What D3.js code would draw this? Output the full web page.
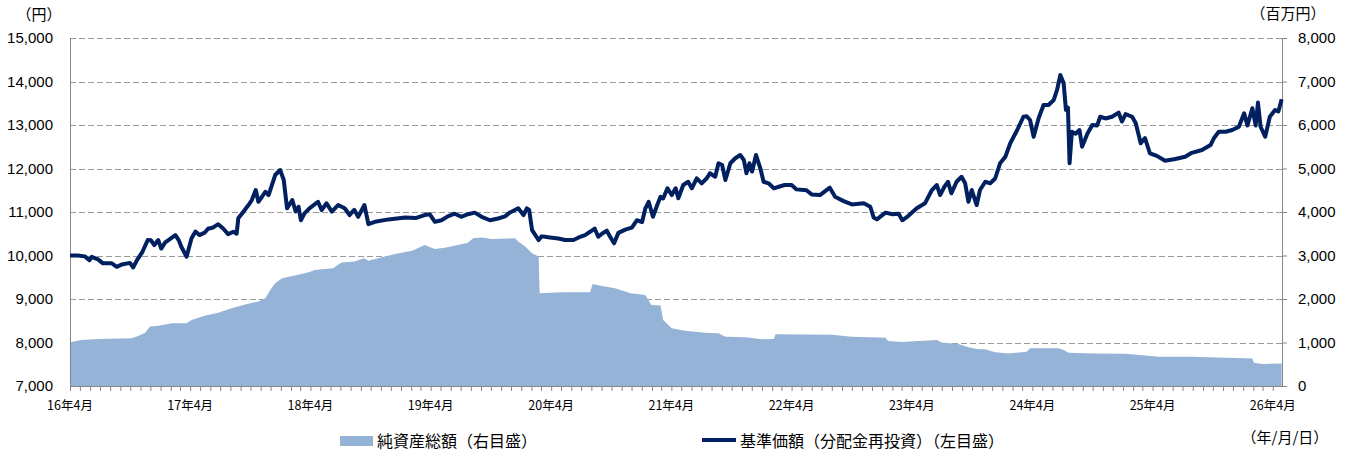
<!DOCTYPE html>
<html>
<head>
<meta charset="utf-8">
<script src="https://cdn.jsdelivr.net/npm/d3@7"></script>
<style>
  body { margin: 0; background: #fff; }
  svg { display: block; }
  text { fill: #000; }
  .num { font-family: 'Liberation Sans', Arial, sans-serif; font-size: 15px; }
  .jp { font-family: 'Noto Sans CJK JP', sans-serif; }
</style>
</head>
<body>
<svg id="chart" width="1355" height="455"></svg>
<script>
const WIDTH = 1355
const HEIGHT = 455
const MARGIN = { left: 70, right: 73, top: 38, bottom: 69 }

const LINE_COLOR = '#002060'
const AREA_COLOR = '#95b3d7'
const AXIS_COLOR = '#868686'
const GRID_COLOR = '#9a9a9a'

// 基準価額（分配金再投資） 円
const navPoints = [
  ['2016-04-01', 10000], ['2016-04-25', 10000], ['2016-05-16', 9980], ['2016-05-30', 9890],
  ['2016-06-06', 9970], ['2016-06-25', 9910], ['2016-07-10', 9820], ['2016-08-06', 9820],
  ['2016-08-21', 9740], ['2016-09-06', 9795], ['2016-09-30', 9830], ['2016-10-10', 9725],
  ['2016-10-21', 9890], ['2016-11-07', 10085], ['2016-11-23', 10355], ['2016-12-03', 10350],
  ['2016-12-13', 10240], ['2016-12-25', 10355], ['2017-01-03', 10160], ['2017-01-15', 10300],
  ['2017-01-25', 10355], ['2017-02-15', 10470], ['2017-02-25', 10355], ['2017-03-05', 10200],
  ['2017-03-21', 9970], ['2017-04-05', 10395], ['2017-04-17', 10550], ['2017-04-29', 10470],
  ['2017-05-15', 10525], ['2017-05-25', 10615], ['2017-06-10', 10645], ['2017-06-25', 10720],
  ['2017-07-10', 10620], ['2017-07-25', 10490], ['2017-08-10', 10545], ['2017-08-20', 10500],
  ['2017-08-25', 10855], ['2017-09-10', 11010], ['2017-09-25', 11160], ['2017-10-05', 11275],
  ['2017-10-17', 11505], ['2017-10-25', 11235], ['2017-11-05', 11350], ['2017-11-15', 11465],
  ['2017-11-25', 11390], ['2017-12-05', 11620], ['2017-12-15', 11850], ['2017-12-30', 11965],
  ['2018-01-10', 11735], ['2018-01-20', 11085], ['2018-02-05', 11275], ['2018-02-15', 11010],
  ['2018-02-24', 11120], ['2018-03-03', 10810], ['2018-03-14', 10970], ['2018-03-29', 11085],
  ['2018-04-24', 11235], ['2018-05-05', 11045], ['2018-05-20', 11200], ['2018-06-05', 11010],
  ['2018-06-24', 11160], ['2018-07-14', 11085], ['2018-07-29', 10930], ['2018-08-12', 11050],
  ['2018-08-24', 10890], ['2018-09-12', 11160], ['2018-09-24', 10720], ['2018-10-14', 10775],
  ['2018-11-24', 10830], ['2019-01-14', 10875], ['2019-02-14', 10860], ['2019-03-14', 10930],
  ['2019-03-29', 10950], ['2019-04-14', 10775], ['2019-05-04', 10810], ['2019-05-23', 10900],
  ['2019-06-13', 10960], ['2019-07-03', 10890], ['2019-07-23', 10950], ['2019-08-13', 10985],
  ['2019-09-03', 10890], ['2019-09-28', 10810], ['2019-10-23', 10850], ['2019-11-13', 10900],
  ['2019-11-28', 10990], ['2019-12-23', 11085], ['2020-01-08', 10930], ['2020-01-18', 11085],
  ['2020-01-25', 11050], ['2020-02-03', 10585], ['2020-02-13', 10470], ['2020-02-23', 10355],
  ['2020-03-03', 10440], ['2020-03-13', 10430], ['2020-03-28', 10415], ['2020-04-23', 10390],
  ['2020-05-13', 10355], ['2020-06-08', 10355], ['2020-06-28', 10430], ['2020-07-13', 10470],
  ['2020-07-28', 10545], ['2020-08-11', 10620], ['2020-08-22', 10430], ['2020-09-03', 10505],
  ['2020-09-17', 10570], ['2020-09-27', 10430], ['2020-10-09', 10280], ['2020-10-22', 10520],
  ['2020-11-12', 10595], ['2020-12-02', 10640], ['2020-12-17', 10810], ['2021-01-02', 10770],
  ['2021-01-12', 11085], ['2021-01-22', 11235], ['2021-02-04', 10890], ['2021-02-17', 11160],
  ['2021-02-27', 11350], ['2021-03-07', 11310], ['2021-03-20', 11545], ['2021-04-02', 11390],
  ['2021-04-14', 11545], ['2021-04-22', 11315], ['2021-05-07', 11620], ['2021-05-22', 11695],
  ['2021-06-02', 11545], ['2021-06-17', 11775], ['2021-07-02', 11660], ['2021-07-17', 11775],
  ['2021-07-27', 11890], ['2021-08-12', 11810], ['2021-08-22', 12120], ['2021-09-02', 12080],
  ['2021-09-12', 11735], ['2021-09-27', 12120], ['2021-10-12', 12235], ['2021-10-27', 12310],
  ['2021-11-07', 12195], ['2021-11-15', 11890], ['2021-11-24', 12120], ['2021-12-02', 11930],
  ['2021-12-14', 12310], ['2021-12-27', 12005], ['2022-01-06', 11695], ['2022-01-21', 11660],
  ['2022-02-06', 11545], ['2022-02-21', 11580], ['2022-03-11', 11620], ['2022-04-01', 11620],
  ['2022-04-16', 11520], ['2022-05-16', 11500], ['2022-06-01', 11405], ['2022-06-26', 11390],
  ['2022-07-26', 11560], ['2022-08-11', 11350], ['2022-09-06', 11250], ['2022-10-01', 11175],
  ['2022-11-06', 11200], ['2022-11-26', 11120], ['2022-12-06', 10875], ['2022-12-16', 10830],
  ['2023-01-11', 10985], ['2023-02-01', 10950], ['2023-02-20', 10960], ['2023-03-03', 10810],
  ['2023-03-20', 10900], ['2023-04-16', 11085], ['2023-05-11', 11200], ['2023-06-01', 11505],
  ['2023-06-16', 11620], ['2023-06-26', 11390], ['2023-07-09', 11580], ['2023-07-20', 11695],
  ['2023-07-30', 11430], ['2023-08-15', 11695], ['2023-08-30', 11810], ['2023-09-10', 11660],
  ['2023-09-20', 11235], ['2023-09-30', 11505], ['2023-10-15', 11160], ['2023-10-25', 11505],
  ['2023-11-10', 11695], ['2023-11-25', 11660], ['2023-12-10', 11770], ['2023-12-25', 12120],
  ['2024-01-10', 12270], ['2024-01-25', 12580], ['2024-02-15', 12885], ['2024-03-05', 13190],
  ['2024-03-15', 13200], ['2024-03-25', 13115], ['2024-04-05', 12730], ['2024-04-20', 13155],
  ['2024-05-05', 13460], ['2024-05-20', 13460], ['2024-06-05', 13575], ['2024-06-15', 13805],
  ['2024-06-25', 14150], ['2024-07-05', 13960], ['2024-07-12', 13345], ['2024-07-18', 13400],
  ['2024-07-23', 12120], ['2024-07-30', 12845], ['2024-08-10', 12800], ['2024-08-22', 12885],
  ['2024-08-30', 12500], ['2024-09-15', 12800], ['2024-09-30', 13000], ['2024-10-15', 12990],
  ['2024-10-24', 13190], ['2024-11-09', 13150], ['2024-11-29', 13190], ['2024-12-19', 13285],
  ['2024-12-29', 13080], ['2025-01-09', 13250], ['2025-01-29', 13190], ['2025-02-09', 13040],
  ['2025-02-24', 12580], ['2025-03-09', 12700], ['2025-03-24', 12350], ['2025-04-14', 12290],
  ['2025-05-09', 12180], ['2025-06-09', 12220], ['2025-07-09', 12270], ['2025-07-29', 12360],
  ['2025-08-29', 12425], ['2025-09-24', 12540], ['2025-10-04', 12695], ['2025-10-19', 12845],
  ['2025-11-09', 12845], ['2025-11-29', 12885], ['2025-12-19', 12960], ['2026-01-04', 13270],
  ['2026-01-14', 12990], ['2026-01-29', 13385], ['2026-02-08', 12990], ['2026-02-15', 13515],
  ['2026-02-23', 12960], ['2026-03-09', 12730], ['2026-03-23', 13190], ['2026-04-08', 13345],
  ['2026-04-18', 13310], ['2026-04-28', 13590]
]

// 純資産総額 百万円
const assetPoints = [
  ['2016-04-01', 1005], ['2016-05-06', 1057], ['2016-06-25', 1080], ['2016-10-05', 1095],
  ['2016-10-25', 1150], ['2016-11-15', 1225], ['2016-11-30', 1365], ['2016-12-25', 1385],
  ['2017-02-05', 1440], ['2017-03-21', 1440], ['2017-04-05', 1515], ['2017-05-15', 1615],
  ['2017-06-25', 1685], ['2017-08-05', 1785], ['2017-09-15', 1875], ['2017-10-25', 1940],
  ['2017-11-15', 2015], ['2017-11-30', 2205], ['2017-12-15', 2360], ['2018-01-05', 2475],
  ['2018-02-05', 2530], ['2018-03-05', 2575], ['2018-03-29', 2620], ['2018-04-14', 2665],
  ['2018-06-09', 2705], ['2018-07-04', 2840], ['2018-08-13', 2860], ['2018-09-10', 2935],
  ['2018-09-24', 2880], ['2018-11-04', 2960], ['2018-12-14', 3035], ['2019-02-04', 3110],
  ['2019-03-04', 3205], ['2019-03-14', 3240], ['2019-04-14', 3150], ['2019-05-14', 3180],
  ['2019-06-23', 3240], ['2019-07-23', 3295], ['2019-08-08', 3395], ['2019-09-03', 3415],
  ['2019-10-03', 3380], ['2019-12-13', 3395], ['2019-12-23', 3320], ['2020-01-13', 3205],
  ['2020-02-03', 3050], ['2020-02-23', 2975], ['2020-02-26', 2130], ['2020-05-03', 2155],
  ['2020-07-28', 2155], ['2020-08-05', 2345], ['2020-09-02', 2300], ['2020-10-12', 2245],
  ['2020-11-28', 2130], ['2021-01-12', 2090], ['2021-01-30', 1860], ['2021-02-27', 1850],
  ['2021-03-07', 1515], ['2021-04-02', 1325], ['2021-05-12', 1270], ['2021-07-12', 1225],
  ['2021-08-22', 1215], ['2021-09-12', 1135], ['2021-11-12', 1120], ['2021-12-31', 1075],
  ['2022-02-06', 1080], ['2022-02-11', 1190], ['2022-08-01', 1180], ['2022-10-01', 1135],
  ['2023-01-11', 1110], ['2023-01-19', 1035], ['2023-03-01', 1010], ['2023-06-16', 1057],
  ['2023-07-01', 1000], ['2023-08-20', 965], ['2023-09-20', 890], ['2023-10-20', 845],
  ['2023-11-10', 845], ['2023-12-10', 775], ['2024-01-19', 750], ['2024-03-15', 790],
  ['2024-03-25', 865], ['2024-06-19', 865], ['2024-07-05', 830], ['2024-07-20', 765],
  ['2024-09-30', 750], ['2025-01-09', 740], ['2025-02-28', 705], ['2025-04-20', 675],
  ['2025-07-29', 675], ['2025-11-09', 650], ['2026-01-29', 635], ['2026-02-03', 535],
  ['2026-02-28', 505], ['2026-04-28', 520]
]

const leftTicks = [7000, 8000, 9000, 10000, 11000, 12000, 13000, 14000, 15000]
const rightTicks = [0, 1000, 2000, 3000, 4000, 5000, 6000, 7000, 8000]
const xTickLabels = ['16年4月', '17年4月', '18年4月', '19年4月', '20年4月', '21年4月',
  '22年4月', '23年4月', '24年4月', '25年4月', '26年4月']
const legendLabels = ['純資産総額（右目盛）', '基準価額（分配金再投資）（左目盛）']

const parseDate = d3.timeParse('%Y-%m-%d')
const nav = navPoints.map(([d, v]) => ({ date: parseDate(d), value: v }))
const assets = assetPoints.map(([d, v]) => ({ date: parseDate(d), value: v }))

const x0 = MARGIN.left
const x1 = WIDTH - MARGIN.right
const y0 = HEIGHT - MARGIN.bottom
const y1 = MARGIN.top

const x = d3.scaleTime()
  .domain([parseDate('2016-04-01'), parseDate('2026-04-29')])
  .range([x0, x1])
const yLeft = d3.scaleLinear().domain([7000, 15000]).range([y0, y1])
const yRight = d3.scaleLinear().domain([0, 8000]).range([y0, y1])

const svg = d3.select('#chart')
const fmt = d3.format(',')

// grid
svg.append('g')
  .selectAll('line')
  .data(leftTicks.slice(1))
  .enter()
  .append('line')
  .attr('x1', x0)
  .attr('x2', x1)
  .attr('y1', (d) => Math.round(yLeft(d)) + 0.5)
  .attr('y2', (d) => Math.round(yLeft(d)) + 0.5)
  .attr('stroke', GRID_COLOR)
  .attr('stroke-width', 1)
  .attr('stroke-dasharray', '6,3')

// net assets area
const area = d3.area()
  .x((d) => x(d.date))
  .y0(yRight(0))
  .y1((d) => yRight(d.value))
svg.append('path')
  .datum(assets)
  .attr('d', area)
  .attr('fill', AREA_COLOR)

// axes
const xAxis = d3.axisBottom(x)
  .ticks(d3.timeMonth.every(1))
  .tickSize(5)
  .tickFormat('')
const xg = svg.append('g')
  .attr('transform', `translate(0,${y0})`)
  .call(xAxis)
xg.select('.domain').remove()
xg.selectAll('line').attr('stroke', AXIS_COLOR)

const aprilTicks = d3.timeMonth.range(parseDate('2016-04-01'), parseDate('2026-04-02'), 12)
svg.append('g')
  .selectAll('text')
  .data(aprilTicks)
  .enter()
  .append('text')
  .attr('class', 'jp')
  .attr('x', (d) => x(d))
  .attr('y', 410)
  .attr('text-anchor', 'middle')
  .style('font-size', '12.5px')
  .text((d, i) => xTickLabels[i])

const leftAxis = d3.axisLeft(yLeft).tickValues(leftTicks).tickSize(0).tickPadding(17).tickFormat(fmt)
const lg = svg.append('g')
  .attr('transform', `translate(${x0},0)`)
  .call(leftAxis)
lg.select('.domain').remove()
lg.selectAll('text').attr('class', 'num').attr('fill', '#000')

const rightAxis = d3.axisRight(yRight).tickValues(rightTicks).tickSize(5).tickPadding(11).tickFormat(fmt)
const rg = svg.append('g')
  .attr('transform', `translate(${x1},0)`)
  .call(rightAxis)
rg.select('.domain').remove()
rg.selectAll('line').attr('stroke', AXIS_COLOR)
rg.selectAll('text').attr('class', 'num').attr('fill', '#000')

svg.append('line')
  .attr('x1', x0 + 0.5).attr('x2', x0 + 0.5)
  .attr('y1', y1).attr('y2', y0)
  .attr('stroke', AXIS_COLOR)
svg.append('line')
  .attr('x1', x1 + 0.5).attr('x2', x1 + 0.5)
  .attr('y1', y1).attr('y2', y0)
  .attr('stroke', AXIS_COLOR)
svg.append('line')
  .attr('x1', x0).attr('x2', x1)
  .attr('y1', y0 + 0.5).attr('y2', y0 + 0.5)
  .attr('stroke', AXIS_COLOR)

// nav line
const line = d3.line()
  .x((d) => x(d.date))
  .y((d) => yLeft(d.value))
svg.append('path')
  .datum(nav)
  .attr('d', line)
  .attr('fill', 'none')
  .attr('stroke', LINE_COLOR)
  .attr('stroke-width', 4)
  .attr('stroke-linejoin', 'round')

// unit labels
svg.append('text').attr('class', 'jp').attr('x', 39).attr('y', 20)
  .attr('text-anchor', 'middle').style('font-size', '15px').text('（円）')
svg.append('text').attr('class', 'jp').attr('x', 1288).attr('y', 19)
  .attr('text-anchor', 'middle').style('font-size', '15px').text('（百万円）')
svg.append('text').attr('class', 'jp').attr('x', 1285).attr('y', 443)
  .attr('text-anchor', 'middle').style('font-size', '15px').text('（年/月/日）')

// legend
svg.append('rect')
  .attr('x', 340).attr('y', 436).attr('width', 33).attr('height', 10)
  .attr('fill', AREA_COLOR)
svg.append('text').attr('class', 'jp').attr('x', 377).attr('y', 447)
  .style('font-size', '16px').text(legendLabels[0])
svg.append('line')
  .attr('x1', 702).attr('x2', 736).attr('y1', 440).attr('y2', 440)
  .attr('stroke', LINE_COLOR).attr('stroke-width', 4)
svg.append('text').attr('class', 'jp').attr('x', 740).attr('y', 447)
  .style('font-size', '16px').text(legendLabels[1])
</script>
</body>
</html>
